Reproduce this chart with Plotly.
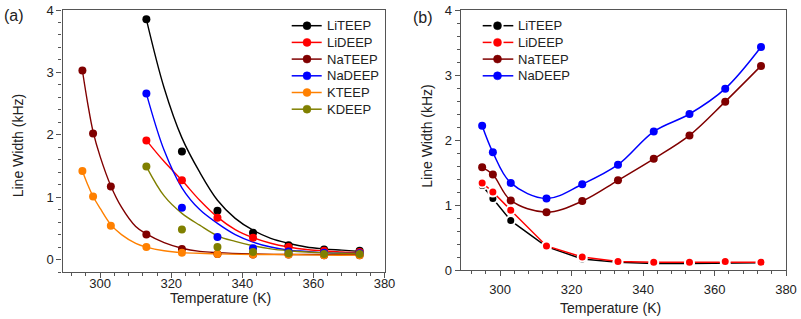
import plotly.graph_objects as go

# ---------------- data ----------------
T_all = [295, 298, 303, 313, 323, 333, 343, 353, 363, 373]
T_hi = [313, 323, 333, 343, 353, 363, 373]

# panel (a) measured points
li_teep_a = [3.85, 1.73, 0.78, 0.43, 0.23, 0.16, 0.14]
li_deep_a = [1.91, 1.27, 0.67, 0.35, 0.20, 0.14, 0.12]
na_teep_a = [3.03, 2.02, 1.17, 0.40, 0.17, 0.09, 0.08, 0.08, 0.07, 0.07]
na_deep_a = [2.66, 0.83, 0.36, 0.18, 0.13, 0.11, 0.10]
k_teep_a = [1.42, 1.01, 0.54, 0.20, 0.11, 0.09, 0.08, 0.08, 0.07, 0.07]
k_deep_a = [1.49, 0.48, 0.20, 0.12, 0.10, 0.09, 0.09]

# panel (a) fitted curves
fit_T_hi = [313, 318, 323, 328, 333, 338, 343, 348, 353, 358, 363, 368, 373]
li_teep_fit = [3.85, 2.75, 1.95, 1.40, 0.95, 0.66, 0.47, 0.34, 0.26, 0.20, 0.17, 0.15, 0.13]
li_deep_fit = [1.91, 1.57, 1.27, 0.95, 0.68, 0.48, 0.35, 0.26, 0.20, 0.16, 0.14, 0.12, 0.11]
na_deep_fit = [2.66, 1.75, 1.15, 0.80, 0.58, 0.40, 0.28, 0.20, 0.15, 0.13, 0.11, 0.10, 0.10]
k_deep_fit = [1.49, 1.02, 0.74, 0.55, 0.38, 0.29, 0.22, 0.17, 0.14, 0.12, 0.11, 0.10, 0.10]

fit_T_lo = [295, 296.5, 298, 300, 303, 306, 310, 313, 318, 323, 328, 333, 343, 353, 363, 373]
na_teep_fit = [3.03, 2.50, 2.05, 1.65, 1.18, 0.84, 0.53, 0.41, 0.27, 0.18, 0.13, 0.11, 0.09, 0.08, 0.08, 0.08]
k_teep_fit = [1.42, 1.20, 1.01, 0.82, 0.56, 0.40, 0.26, 0.20, 0.14, 0.11, 0.10, 0.09, 0.08, 0.08, 0.07, 0.07]

# panel (b) measured points
li_teep_b = [1.30, 1.10, 0.76, 0.36, 0.17, 0.12, 0.10, 0.10, 0.11, 0.11]
li_deep_b = [1.34, 1.20, 0.92, 0.37, 0.20, 0.13, 0.12, 0.12, 0.13, 0.12]
na_teep_b = [1.58, 1.47, 1.07, 0.89, 1.06, 1.38, 1.71, 2.07, 2.59, 3.14]
na_deep_b = [2.22, 1.81, 1.34, 1.10, 1.32, 1.62, 2.13, 2.40, 2.79, 3.43]

names_a = ["LiTEEP", "LiDEEP", "NaTEEP", "NaDEEP", "KTEEP", "KDEEP"]
names_b = ["LiTEEP", "LiDEEP", "NaTEEP", "NaDEEP"]
colors = {"LiTEEP": "#000000", "LiDEEP": "#FF0000", "NaTEEP": "#800000",
          "NaDEEP": "#0000FF", "KTEEP": "#FF8000", "KDEEP": "#808000"}

W, H = 801, 319
FONT = "Liberation Sans, Arial, sans-serif"
TXT = "#222222"
AX = "#555555"

fig = go.Figure()

# ---- panel (a) fitted curves ----
fits = [("LiTEEP", fit_T_hi, li_teep_fit), ("LiDEEP", fit_T_hi, li_deep_fit),
        ("NaTEEP", fit_T_lo, na_teep_fit), ("NaDEEP", fit_T_hi, na_deep_fit),
        ("KTEEP", fit_T_lo, k_teep_fit), ("KDEEP", fit_T_hi, k_deep_fit)]
for n, xs, ys in fits:
    fig.add_trace(go.Scatter(x=xs, y=ys, mode="lines",
                             line=dict(color=colors[n], width=1.4, shape="spline", smoothing=1.0),
                             showlegend=False, xaxis="x", yaxis="y", hoverinfo="skip"))

# ---- panel (a) points ----
pts = [("LiTEEP", T_hi, li_teep_a), ("LiDEEP", T_hi, li_deep_a),
       ("NaTEEP", T_all, na_teep_a), ("NaDEEP", T_hi, na_deep_a),
       ("KTEEP", T_all, k_teep_a), ("KDEEP", T_hi, k_deep_a)]
for n, xs, ys in pts:
    fig.add_trace(go.Scatter(x=xs, y=ys, mode="markers", name=n, marker=dict(color=colors[n], size=8),
                             showlegend=False, xaxis="x", yaxis="y"))

# ---- panel (b) ----
for n, ys in [("LiTEEP", li_teep_b), ("LiDEEP", li_deep_b)]:
    fig.add_trace(go.Scatter(x=T_all, y=ys, mode="lines+markers", name=n, showlegend=False,
                             line=dict(color=colors[n], width=1.5),
                             marker=dict(color=colors[n], size=9, line=dict(color="white", width=2)),
                             xaxis="x2", yaxis="y2"))
for n, ys in [("NaTEEP", na_teep_b), ("NaDEEP", na_deep_b)]:
    fig.add_trace(go.Scatter(x=T_all, y=ys, mode="lines+markers", name=n, showlegend=False,
                             line=dict(color=colors[n], width=1.5, shape="spline", smoothing=1.0),
                             marker=dict(color=colors[n], size=8),
                             xaxis="x2", yaxis="y2"))


def px_x(p):
    return p / W


def px_y(p):
    return 1 - p / H


# ---- hand-made legends (layout only) ----
shapes = []
annotations = []
LEG_Y0, LEG_DY = 25.7, 16.7


def legend_entry(name, yc, x0, x1, xm, xt, gap):
    c = colors[name]
    if gap:
        shapes.append(dict(type="line", xref="paper", yref="paper", x0=px_x(x0), x1=px_x(xm - 6),
                           y0=px_y(yc), y1=px_y(yc), line=dict(color=c, width=1.5)))
        shapes.append(dict(type="line", xref="paper", yref="paper", x0=px_x(xm + 6), x1=px_x(x1),
                           y0=px_y(yc), y1=px_y(yc), line=dict(color=c, width=1.5)))
    else:
        shapes.append(dict(type="line", xref="paper", yref="paper", x0=px_x(x0), x1=px_x(x1),
                           y0=px_y(yc), y1=px_y(yc), line=dict(color=c, width=1.5)))
    r = 4
    shapes.append(dict(type="circle", xref="paper", yref="paper", x0=px_x(xm - r), x1=px_x(xm + r),
                       y0=px_y(yc + r), y1=px_y(yc - r), fillcolor=c, line=dict(color=c, width=0.5)))
    annotations.append(dict(text=name, x=px_x(xt), y=px_y(yc), xref="paper", yref="paper",
                            xanchor="left", yanchor="middle", showarrow=False,
                            font=dict(family=FONT, size=13, color=TXT)))


for i, n in enumerate(names_a):
    legend_entry(n, LEG_Y0 + i * LEG_DY, 291.7, 321.7, 307.0, 324.5, False)
for i, n in enumerate(names_b):
    legend_entry(n, LEG_Y0 + i * LEG_DY, 482.7, 513.3, 497.5, 516.0, n.startswith("Li"))


def label(text, x, y, size, angle=0):
    annotations.append(dict(text=text, x=px_x(x), y=px_y(y), xref="paper", yref="paper",
                            xanchor="center", yanchor="middle", showarrow=False, textangle=angle,
                            font=dict(family=FONT, size=size, color=TXT)))


label("(a)", 13.5, 15, 16)
label("(b)", 423.3, 18, 16)
label("Temperature (K)", 220, 298, 14)
label("Temperature (K)", 610, 308, 14)
label("Line Width (kHz)", 18.3, 146, 14, -90)
label("Line Width (kHz)", 426.7, 136, 14, -90)

axis_common = dict(showline=True, linecolor=AX, linewidth=1.2, mirror=True,
                   ticks="outside", ticklen=5, tickwidth=1.2, tickcolor=AX,
                   showgrid=False, zeroline=False, automargin=False,
                   tickfont=dict(family=FONT, size=13, color=TXT))

fig.update_layout(
    template="none",
    width=W, height=H,
    margin=dict(l=0, r=0, t=0, b=0, pad=0),
    paper_bgcolor="white", plot_bgcolor="white",
    font=dict(family=FONT, color=TXT),
    showlegend=False,
    xaxis=dict(domain=[px_x(62.5), px_x(384.5)], range=[289.4, 380], anchor="y",
               tick0=300, dtick=20, ticklabelstandoff=-6,
               minor=dict(dtick=4, ticklen=3, ticks="outside", tickcolor=AX), **axis_common),
    yaxis=dict(domain=[px_y(272), px_y(10)], range=[-0.2, 4], anchor="x",
               tick0=0, dtick=1,
               minor=dict(dtick=0.2, ticklen=3, ticks="outside", tickcolor=AX), **axis_common),
    xaxis2=dict(domain=[px_x(460.7), px_x(786)], range=[289, 380], anchor="y2",
                tick0=300, dtick=20, ticklabelstandoff=2,
                minor=dict(dtick=4, ticklen=3, ticks="outside", tickcolor=AX), **axis_common),
    yaxis2=dict(domain=[px_y(270), px_y(10)], range=[0, 4], anchor="x2",
                tick0=0, dtick=1,
                minor=dict(dtick=0.2, ticklen=3, ticks="outside", tickcolor=AX), **axis_common),
    shapes=shapes,
    annotations=annotations,
)

fig.write_html("out.html", include_plotlyjs=True, config={"displayModeBar": False},
               post_script="document.body.style.margin='0';document.body.style.overflow='hidden';")
